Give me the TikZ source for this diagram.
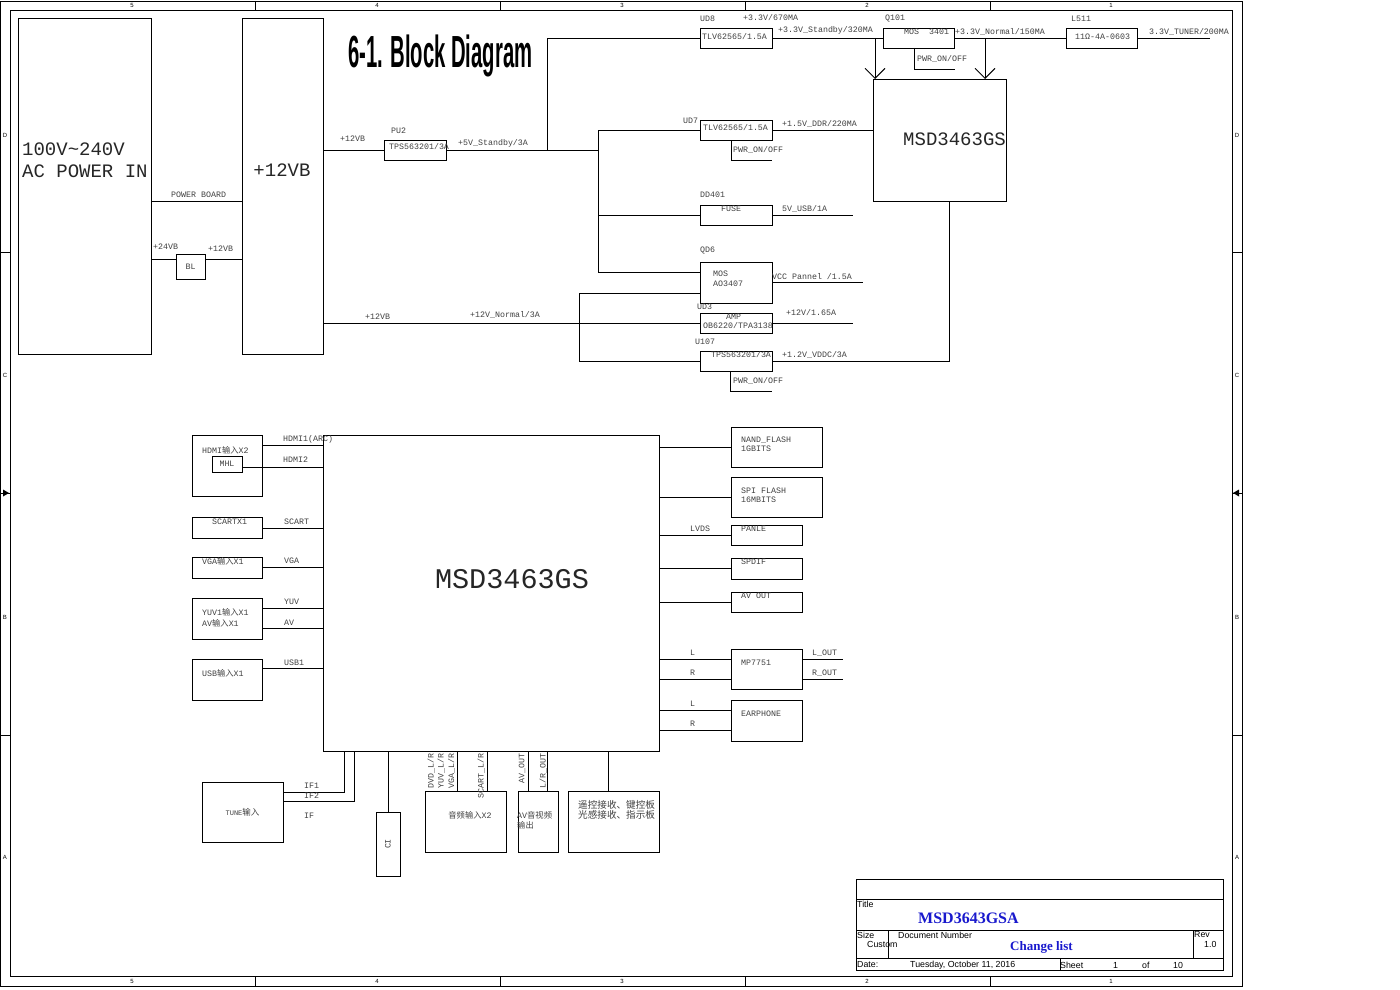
\documentclass[tikz,border=0pt]{standalone}
\usepackage{fontspec}
\usepackage{graphicx}
\setmainfont{Liberation Sans}
\setmonofont{Liberation Mono}
\newfontfamily\cjk{Noto Sans CJK SC}
\newfontfamily\tnr{Liberation Serif}
\usetikzlibrary{arrows.meta}
\newcommand{\zh}[1]{{\cjk #1}}
\newcommand{\smf}{\ttfamily\fontsize{8.3}{9}\selectfont}
\newcommand{\bigf}{\ttfamily\fontsize{19}{22}\selectfont}
\newcommand{\tbf}{\rmfamily\fontsize{8.8}{10}\selectfont}
\definecolor{tbblue}{RGB}{25,25,205}
\newcommand{\bx}[5]{\node[box,anchor=north west,minimum width=#4pt,minimum height=#5pt] (#1) at (#2,#3) {};}
\begin{document}
\begin{tikzpicture}[x=1pt,y=-1pt,
  frm/.style={line width=0.8pt},
  wire/.style={line width=0.9pt},
  box/.style={draw,line width=0.9pt,inner sep=0pt,outer sep=0pt},
  lbl/.style={inner sep=0pt,anchor=west,font=\smf,text=black!75},
  clbl/.style={inner sep=0pt,font=\smf,text=black!75},
  bigl/.style={inner sep=0pt,anchor=west,font=\bigf,text=black!85},
  tbt/.style={inner sep=0pt,anchor=west,font=\tbf},
  edge/.style={inner sep=0pt,font=\rmfamily\fontsize{6}{7}\selectfont},
  barb/.style={wire,-{Straight Barb[length=10pt,width=20pt,line width=0.9pt]}}]
\useasboundingbox (0,0) rectangle (1400,990);
\fill[white] (0,0) rectangle (1400,990);
% ---------------- frame
\draw[frm] (0,1) rectangle (1242,986);
\draw[frm] (10,10) rectangle (1232,976);
\foreach \x in {255,500,745,990}{\draw[frm] (\x,1)--(\x,10); \draw[frm] (\x,976)--(\x,986);}
\foreach \y in {252,735}{\draw[frm] (0,\y)--(10,\y); \draw[frm] (1232,\y)--(1242,\y);}
\draw[frm] (0,493)--(10,493); \draw[frm] (1232,493)--(1242,493);
\fill (3,489.5)--(9,493)--(3,496.5)--cycle;
\fill (1239,489.5)--(1233,493)--(1239,496.5)--cycle;
\foreach \x/\t in {132/5,377/4,622/3,867/2,1111/1}{\node[edge] at (\x,5) {\t}; \node[edge] at (\x,981) {\t};}
\foreach \y/\t in {135/D,375/C,617/B,857/A}{\node[edge] at (5,\y) {\t}; \node[edge] at (1237,\y) {\t};}
% ---------------- title
\node[inner sep=0pt,anchor=base west] at (348,67) {\scalebox{0.45}[1]{\fontsize{45}{50}\selectfont\bfseries 6-1. Block Diagram}};
% ---------------- power section boxes
\bx{ac}{18}{18}{133}{336}
\bx{vb}{242}{18}{81}{336}
\bx{bl}{176}{254}{29}{25}
\bx{pu2}{384}{140}{62}{20}
\bx{ud8}{700}{28}{72}{20}
\bx{q101}{883}{28}{71}{20}
\bx{l511}{1066}{28}{71}{20}
\bx{msdt}{873}{79}{133}{122}
\bx{ud7}{700}{120}{72}{20}
\bx{dd401}{700}{205}{72}{20}
\bx{qd6}{700}{262}{72}{41}
\bx{ud3}{700}{313}{72}{20}
\bx{u107}{700}{351}{72}{20}
\coordinate (j5) at (547,150);
\coordinate (jv) at (598,150);
\coordinate (tunend) at (1210,38);
% ---------------- power wires
\draw[wire] (ac.east |- 0,201) -- (vb.west |- 0,201);
\draw[wire] (ac.east |- 0,259) -- (bl.west |- 0,259);
\draw[wire] (bl.east |- 0,259) -- (vb.west |- 0,259);
\draw[wire] (vb.east |- pu2.west) -- (pu2.west);
\draw[wire] (pu2.east) -- (jv);
\draw[wire] (j5) |- (ud8.west);
\draw[wire] (ud7.west) -| (598,272) -- (qd6.west |- 0,272);
\draw[wire] (598,215) -- (dd401.west);
\draw[wire] (vb.east |- ud3.west) -- (ud3.west);
\draw[wire] (qd6.west |- 0,293) -- (579,293) -- (579,361) -- (u107.west);
\draw[wire] (ud8.east) -- (q101.west);
\draw[wire] (q101.east) -- (l511.west);
\draw[wire] (l511.east) -- (tunend);
\draw[barb] (875,38) -- (msdt.north west -| 875,0);
\draw[barb] (985,38) -- (msdt.north west -| 985,0);
\draw[wire] (q101.south -| 914,0) -- (914,69) -- (955,69);
\draw[wire] (ud7.east) -- (msdt.west |- ud7.east);
\draw[wire] (ud7.south -| 731,0) -- (731,160) -- (772,160);
\draw[wire] (dd401.east) -- (853,215);
\draw[wire] (qd6.east) -- (863,282.5);
\draw[wire] (ud3.east) -- (853,323);
\draw[wire] (u107.east) -- (949,361) -- (msdt.south -| 949,0);
\draw[wire] (u107.south -| 730,0) -- (730,391) -- (772,391);
% ---------------- power labels
\node[bigl] at (22,149) {100V\textasciitilde240V};
\node[bigl] at (22,171) {AC POWER IN};
\node[inner sep=0pt,font=\bigf,text=black!85] at (282,170) {+12VB};
\node[lbl] at (171,195) {POWER BOARD};
\node[lbl] at (153,247) {+24VB};
\node[lbl] at (208,249) {+12VB};
\node[clbl] at (bl.center) {BL};
\node[lbl] at (340,139) {+12VB};
\node[lbl] at (391,131) {PU2};
\node[lbl] at (389,147) {TPS563201/3A};
\node[lbl] at (458,143) {+5V\_Standby/3A};
\node[lbl] at (700,19) {UD8};
\node[lbl] at (743,18) {+3.3V/670MA};
\node[lbl] at (702,37) {TLV62565/1.5A};
\node[lbl] at (778,30) {+3.3V\_Standby/320MA};
\node[lbl] at (885,19) {Q101};
\node[lbl] at (904,32) {MOS~~3401};
\node[lbl] at (955,32) {+3.3V\_Normal/150MA};
\node[lbl] at (917,59) {PWR\_ON/OFF};
\node[lbl] at (1071,19) {L511};
\node[lbl] at (1075,37) {11Ω-4A-0603};
\node[lbl] at (1149,32) {3.3V\_TUNER/200MA};
\node[bigl] at (903,139) {MSD3463GS};
\node[lbl] at (683,121) {UD7};
\node[lbl] at (703,128) {TLV62565/1.5A};
\node[lbl] at (782,124) {+1.5V\_DDR/220MA};
\node[lbl] at (733,150) {PWR\_ON/OFF};
\node[lbl] at (700,195) {DD401};
\node[lbl] at (721,209) {FUSE};
\node[lbl] at (782,209) {5V\_USB/1A};
\node[lbl] at (700,251) {QD6};
\node[lbl] at (713,274) {MOS};
\node[lbl] at (713,284) {AO3407};
\node[lbl] at (772,277) {VCC Pannel /1.5A};
\node[lbl] at (697,307) {UD3};
\node[lbl] at (726,317) {AMP};
\node[lbl] at (703,326) {OB6220/TPA3138};
\node[lbl] at (786,313) {+12V/1.65A};
\node[lbl] at (695,342) {U107};
\node[lbl] at (711,355) {TPS563201/3A};
\node[lbl] at (782,355) {+1.2V\_VDDC/3A};
\node[lbl] at (733,381) {PWR\_ON/OFF};
\node[lbl] at (365,317) {+12VB};
\node[lbl] at (470,315) {+12V\_Normal/3A};
% ---------------- main SoC
\bx{msd}{323}{435}{336}{316}
\node[inner sep=0pt,font=\ttfamily\fontsize{28.5}{30}\selectfont,text=black!85] at (512,579) {MSD3463GS};
% inputs
\bx{hdmi}{192}{435}{70}{61}
\bx{mhl}{212}{456}{30}{16}
\bx{scart}{192}{517}{70}{21}
\bx{vga}{192}{557}{70}{21}
\bx{yuv}{192}{598}{70}{41}
\bx{usb}{192}{659}{70}{41}
\draw[wire] (hdmi.east |- 0,445) -- (msd.west |- 0,445);
\draw[wire] (mhl.east |- 0,467) -- (msd.west |- 0,467);
\draw[wire] (scart.east |- 0,528) -- (msd.west |- 0,528);
\draw[wire] (vga.east |- 0,567) -- (msd.west |- 0,567);
\draw[wire] (yuv.east |- 0,608) -- (msd.west |- 0,608);
\draw[wire] (yuv.east |- 0,628) -- (msd.west |- 0,628);
\draw[wire] (usb.east |- 0,668) -- (msd.west |- 0,668);
\node[lbl] at (202,450) {HDMI\zh{输入}X2};
\node[clbl] at (mhl.center) {MHL};
\node[lbl] at (283,439) {HDMI1(ARC)};
\node[lbl] at (283,460) {HDMI2};
\node[lbl] at (212,522) {SCARTX1};
\node[lbl] at (284,522) {SCART};
\node[lbl] at (202,561) {VGA\zh{输入}X1};
\node[lbl] at (284,561) {VGA};
\node[lbl] at (202,612) {YUV1\zh{输入}X1};
\node[lbl] at (202,623) {AV\zh{输入}X1};
\node[lbl] at (284,602) {YUV};
\node[lbl] at (284,623) {AV};
\node[lbl] at (202,673) {USB\zh{输入}X1};
\node[lbl] at (284,663) {USB1};
% outputs
\bx{nand}{731}{427}{91}{40}
\bx{spi}{731}{477}{91}{40}
\bx{panle}{731}{525}{71}{20}
\bx{spdif}{731}{558}{71}{21}
\bx{avout}{731}{592}{71}{20}
\bx{mp}{731}{649}{71}{40}
\bx{ear}{731}{700}{71}{41}
\draw[wire] (msd.east |- 0,447) -- (nand.west |- 0,447);
\draw[wire] (msd.east |- 0,497) -- (spi.west |- 0,497);
\draw[wire] (msd.east |- 0,535) -- (panle.west |- 0,535);
\draw[wire] (msd.east |- 0,568) -- (spdif.west |- 0,568);
\draw[wire] (msd.east |- 0,602) -- (avout.west |- 0,602);
\draw[wire] (msd.east |- 0,659) -- (mp.west |- 0,659);
\draw[wire] (msd.east |- 0,679) -- (mp.west |- 0,679);
\draw[wire] (msd.east |- 0,710) -- (ear.west |- 0,710);
\draw[wire] (msd.east |- 0,730) -- (ear.west |- 0,730);
\draw[wire] (mp.east |- 0,659) -- (843,659);
\draw[wire] (mp.east |- 0,679) -- (843,679);
\node[lbl] at (741,440) {NAND\_FLASH};
\node[lbl] at (741,449) {1GBITS};
\node[lbl] at (741,491) {SPI FLASH};
\node[lbl] at (741,500) {16MBITS};
\node[lbl] at (690,529) {LVDS};
\node[lbl] at (741,529) {PANLE};
\node[lbl] at (741,562) {SPDIF};
\node[lbl] at (741,596) {AV OUT};
\node[lbl] at (690,653) {L};
\node[lbl] at (690,673) {R};
\node[lbl] at (741,663) {MP7751};
\node[lbl] at (812,653) {L\_OUT};
\node[lbl] at (812,673) {R\_OUT};
\node[lbl] at (690,704) {L};
\node[lbl] at (690,724) {R};
\node[lbl] at (741,714) {EARPHONE};
% bottom
\bx{tune}{202}{782}{81}{60}
\bx{ci}{376}{812}{24}{64}
\bx{aud}{425}{791}{81}{61}
\bx{avo}{518}{791}{40}{61}
\bx{rem}{568}{791}{91}{61}
\draw[wire] (tune.east |- 0,792) -- (344,792) -- (msd.south -| 344,0);
\draw[wire] (tune.east |- 0,801) -- (354,801) -- (msd.south -| 354,0);
\draw[wire] (msd.south -| ci.north) -- (ci.north);
\draw[wire] (msd.south -| 457,0) -- (aud.north -| 457,0);
\draw[wire] (msd.south -| 487,0) -- (aud.north -| 487,0);
\draw[wire] (msd.south -| 528,0) -- (avo.north -| 528,0);
\draw[wire] (msd.south -| 547,0) -- (avo.north -| 547,0);
\draw[wire] (msd.south -| 608,0) -- (rem.north -| 608,0);
\node[clbl] at (tune.center) {\fontsize{7}{8}\selectfont TUNE\zh{\fontsize{8.5}{9}\selectfont 输入}};
\node[lbl] at (304,786) {IF1};
\node[lbl] at (304,796) {IF2};
\node[lbl] at (304,816) {IF};
\node[clbl,rotate=90] at (ci.center) {CI};
\node[lbl,rotate=90,anchor=east] at (431,753) {DVD\_L/R};
\node[lbl,rotate=90,anchor=east] at (441,753) {YUV\_L/R};
\node[lbl,rotate=90,anchor=east] at (451.5,753) {VGA\_L/R};
\node[lbl,rotate=90,anchor=east] at (481,753) {SCART\_L/R};
\node[lbl,rotate=90,anchor=east] at (522,753) {AV\_OUT};
\node[lbl,rotate=90,anchor=east] at (543,753) {L/R\_OUT};
\node[clbl] at (470,815) {\zh{音频输入}X2};
\node[lbl] at (517,815) {AV\zh{音视频}};
\node[lbl] at (517,825) {\zh{输出}};
\node[lbl] at (578,805) {\fontsize{9.6}{10}\selectfont\zh{遥控接收、键控板}};
\node[lbl] at (578,815) {\fontsize{9.6}{10}\selectfont\zh{光感接收、指示板}};
% ---------------- title block
\draw[frm] (856,879) rectangle (1223,970);
\draw[frm] (856,899) -- (1223,899);
\draw[frm] (856,930) -- (1223,930);
\draw[frm] (856,958) -- (1223,958);
\draw[frm] (888,930) -- (888,958);
\draw[frm] (1193,930) -- (1193,958);
\draw[frm] (1060,958) -- (1060,970);
\node[tbt] at (857,904) {Title};
\node[tbt,font=\tnr\bfseries\fontsize{16}{18}\selectfont,text=tbblue] at (918,918) {MSD3643GSA};
\node[tbt] at (857,935) {Size};
\node[tbt] at (898,935) {Document Number};
\node[tbt] at (1194,935) {Rev};
\node[tbt] at (867,944) {Custom};
\node[tbt,font=\tnr\bfseries\fontsize{13}{15}\selectfont,text=tbblue] at (1010,947) {Change list};
\node[tbt] at (1204,944) {1.0};
\node[tbt] at (857,965) {Date:};
\node[tbt] at (910,965) {Tuesday, October 11, 2016};
\node[tbt] at (1060,965) {Sheet};
\node[tbt] at (1113,965) {1};
\node[tbt] at (1142,965) {of};
\node[tbt] at (1173,965) {10};
\end{tikzpicture}
\end{document}
